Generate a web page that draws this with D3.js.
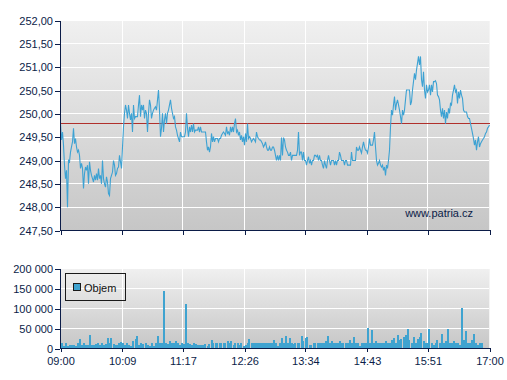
<!DOCTYPE html>
<html><head><meta charset="utf-8">
<script src="https://cdn.jsdelivr.net/npm/d3@7"></script>
<style>body{margin:0;background:#fff;} svg{display:block;font-family:"Liberation Sans",Arial,sans-serif;}</style>
</head><body><svg id="c" width="507" height="380"></svg>
<script>
const priceTicks = [247.5, 248, 248.5, 249, 249.5, 250, 250.5, 251, 251.5, 252];
const volumeTicks = [0, 50000, 100000, 150000, 200000];
const timeTicks = ["09:00", "10:09", "11:17", "12:26", "13:34", "14:43", "15:51", "17:00"];
const sessionStart = "09:00", sessionEnd = "17:00";
const prevClose = 249.80;
const watermark = "www.patria.cz";
const legendLabel = "Objem";

// intraday prices, evenly sampled across the session
const prices = [
249.79,249.44,249.61,249.33,248.90,248.61,248.79,248.00,249.00,248.97,
249.18,249.29,249.40,249.69,249.36,249.47,249.29,249.18,249.22,249.11,
248.83,248.94,248.83,248.40,248.72,248.86,248.79,248.90,248.50,248.97,
248.79,248.68,248.61,248.54,248.68,248.58,248.72,248.58,248.83,248.61,
248.68,248.50,249.00,248.61,248.50,248.43,248.65,248.54,248.29,248.25,
248.61,248.68,248.75,249.00,248.90,248.68,248.72,248.83,248.86,249.11,
248.97,248.83,249.29,249.72,250.01,250.19,250.08,249.90,250.19,250.01,
249.87,250.01,249.61,250.19,249.90,249.94,249.94,249.94,250.19,250.40,
249.94,250.19,250.08,250.19,249.90,250.08,250.01,249.61,250.01,250.30,
250.19,249.90,250.01,250.08,250.12,250.15,250.08,250.30,250.51,250.08,
249.51,249.69,250.01,249.61,249.87,250.01,249.79,250.01,250.08,250.19,
250.30,250.12,250.01,249.90,249.94,249.72,249.65,249.54,249.47,249.40,
249.61,249.51,249.51,249.51,249.51,249.61,250.01,249.69,249.51,249.72,
249.61,249.76,249.61,249.79,249.61,249.65,249.65,249.65,249.72,249.61,
249.72,249.61,249.61,249.61,249.61,249.61,249.40,249.22,249.29,249.18,
249.29,249.58,249.40,249.51,249.40,249.47,249.47,249.47,249.40,249.47,
249.47,249.54,249.58,249.61,249.58,249.54,249.72,249.58,249.61,249.54,
249.72,249.61,249.72,249.61,249.79,249.90,249.61,249.65,249.54,249.61,
249.44,249.54,249.40,249.51,249.33,249.58,249.40,249.79,249.47,249.51,
249.47,249.40,249.44,249.47,249.44,249.40,249.61,249.51,249.47,249.44,
249.44,249.40,249.36,249.29,249.33,249.40,249.29,249.22,249.22,249.29,
249.22,249.22,249.29,249.29,249.22,249.11,249.00,249.11,249.00,249.11,
249.00,249.49,249.11,249.49,249.44,249.29,249.22,249.18,249.11,249.11,
249.18,249.00,249.11,249.11,249.11,249.11,249.11,249.22,249.61,249.11,
249.18,249.18,249.00,249.18,249.00,249.00,248.90,249.00,249.08,248.94,
249.00,248.90,249.00,249.00,249.11,249.11,249.08,249.11,249.00,249.11,
249.00,249.00,248.90,248.83,249.00,248.90,248.83,249.00,249.11,249.00,
248.90,249.00,249.00,249.00,248.90,249.00,248.90,249.00,249.00,249.18,
249.11,249.00,249.00,249.00,248.90,249.00,249.00,248.90,248.90,248.90,
248.90,249.18,249.00,249.00,249.00,249.00,249.29,249.22,249.22,249.29,
249.22,249.16,249.29,249.40,249.29,249.22,249.22,249.16,249.29,249.47,
249.33,249.33,249.33,249.44,249.61,249.29,249.00,248.90,248.94,249.00,
248.90,248.86,248.90,248.79,248.86,248.68,248.90,248.83,249.00,249.22,
249.72,250.08,249.97,250.19,250.37,250.08,250.22,250.30,250.19,250.08,
249.94,249.79,250.08,249.97,250.08,250.30,250.51,250.51,250.51,250.51,
250.19,250.26,250.51,250.69,250.87,250.73,250.94,251.08,251.23,251.05,
251.23,250.73,250.58,250.90,250.51,250.33,250.62,250.47,250.51,250.62,
250.40,250.62,250.47,250.69,250.69,250.71,250.65,250.40,250.37,250.30,
250.08,249.94,250.12,249.90,250.08,249.79,250.04,249.90,250.12,250.01,
250.22,250.19,250.40,250.51,250.62,250.47,250.51,250.22,250.47,250.33,
250.51,250.40,250.33,250.08,250.04,250.04,250.04,249.94,249.90,249.90,
249.79,249.69,249.58,249.47,249.33,249.44,249.22,249.40,249.51,249.29,
249.36,249.40,249.44,249.47,249.51,249.58,249.61,249.69,249.72,249.76
];

// traded volume, evenly sampled (every ~2.24 minutes from 09:00)
const volumes = [
15000,7000,15000,6000,8000,10000,10000,6000,15000,25000,
8000,15000,10000,8000,33000,8000,10000,12000,15000,8000,
14000,8000,12000,27000,15000,27000,12000,8000,10000,13000,
17000,15000,8000,15000,8000,6000,18000,24000,31000,8000,
15000,12000,15000,8000,6000,15000,6000,15000,32000,13000,
15000,143000,15000,12000,18000,15000,15000,18000,15000,10000,
15000,12000,112000,15000,12000,10000,15000,12000,8000,10000,
10000,8000,12000,6000,12000,21000,15000,15000,15000,15000,
15000,15000,15000,18000,15000,18000,8000,13000,15000,8000,
13000,7000,10000,15000,24000,15000,15000,13000,15000,15000,
15000,13000,15000,15000,13000,15000,21000,15000,7000,13000,
27000,15000,32000,15000,27000,15000,12000,13000,15000,13000,
32000,18000,27000,29000,10000,8000,15000,15000,15000,13000,
15000,15000,18000,32000,15000,18000,15000,13000,15000,18000,
15000,15000,13000,15000,21000,15000,29000,13000,15000,7000,
13000,15000,13000,52000,15000,46000,15000,18000,15000,13000,
15000,15000,18000,13000,15000,21000,27000,15000,34000,21000,
25000,29000,34000,50000,21000,15000,29000,13000,24000,29000,
40000,18000,15000,13000,48000,15000,8000,15000,21000,13000,
36000,15000,18000,48000,15000,13000,18000,15000,13000,8000,
102000,21000,44000,15000,15000,21000,36000,15000,8000,15000,15000
];

const toMin = s => { const [h, m] = s.split(":").map(Number); return h * 60 + m; };
const t0 = toMin(sessionStart), t1 = toMin(sessionEnd);
const priceStep = (t1 - t0) / (prices.length - 1);
const volStep = 2 * priceStep;

const loc = d3.formatLocale({decimal: ",", thousands: " ", grouping: [3], currency: ["", ""]});
const fPrice = loc.format(",.2f"), fVol = loc.format(",d");

const svg = d3.select("#c");
const navy = "#0b1c48", lineBlue = "#3da2d3", barBlue = "#3fa3d0";
const crisp = v => Math.round(v - 0.5) + 0.5;

const x = d3.scaleLinear().domain([t0, t1]).range([60.5, 489.5]);
const yP = d3.scaleLinear().domain([247.5, 252]).range([230.5, 20.5]);
const yV = d3.scaleLinear().domain([0, 200000]).range([348.5, 268.5]);

const defs = svg.append("defs");
const grad = defs.append("linearGradient").attr("id", "bg").attr("x1", 0).attr("y1", 0).attr("x2", 0).attr("y2", 1);
grad.append("stop").attr("offset", "0%").attr("stop-color", "#f0f0f0");
grad.append("stop").attr("offset", "100%").attr("stop-color", "#c6c6c6");

function panel(yScale, ticks) {
  const [yb, yt] = yScale.range();
  svg.append("rect").attr("x", 60.5).attr("y", yt).attr("width", 429).attr("height", yb - yt).attr("fill", "url(#bg)");
  const g = svg.append("g").attr("stroke", "#fff").attr("stroke-width", 1).attr("shape-rendering", "crispEdges");
  ticks.slice(1).forEach(v => g.append("line").attr("x1", 61).attr("x2", 489.5).attr("y1", crisp(yScale(v))).attr("y2", crisp(yScale(v))));
  timeTicks.slice(1, -1).forEach(s => { const xx = crisp(x(toMin(s))); g.append("line").attr("x1", xx).attr("x2", xx).attr("y1", yt).attr("y2", yb - 0.5); });
  g.append("line").attr("x1", 489.5).attr("x2", 489.5).attr("y1", yt).attr("y2", yb - 0.5).attr("stroke", "#f4f4f4");
}
panel(yP, priceTicks);
panel(yV, volumeTicks);

// reference line (previous close)
svg.append("line").attr("x1", 61).attr("x2", 489.5)
  .attr("y1", crisp(yP(prevClose))).attr("y2", crisp(yP(prevClose)))
  .attr("stroke", "#b0302c").attr("stroke-width", 1).attr("shape-rendering", "crispEdges");

// price line
const line = d3.line().x((d, i) => x(t0 + i * priceStep)).y(d => yP(d));
svg.append("path").datum(prices).attr("d", line).attr("fill", "none").attr("stroke", lineBlue).attr("stroke-width", 1.1);

// volume bars
svg.append("g").attr("shape-rendering", "crispEdges").selectAll("rect").data(volumes).join("rect")
  .attr("x", (d, i) => Math.round(x(t0 + i * volStep)))
  .attr("width", 2)
  .attr("y", d => Math.round(yV(d))).attr("height", d => Math.round(yV(0)) - Math.round(yV(d)))
  .attr("fill", barBlue);

// axes
function styleAxis(g) {
  g.selectAll("path,line").attr("stroke", navy).attr("shape-rendering", "crispEdges");
  g.selectAll("text").attr("fill", navy).style("font-size", "11px").style("font-family", '"Liberation Sans", Arial, sans-serif');
}
const tickMins = timeTicks.map(toMin);
svg.append("g").attr("transform", "translate(0,230)")
  .call(d3.axisBottom(x).tickValues(tickMins).tickFormat("").tickSizeInner(5).tickSizeOuter(0)).call(styleAxis);
svg.append("g").attr("transform", "translate(0,348)")
  .call(d3.axisBottom(x).tickValues(tickMins).tickFormat((d, i) => timeTicks[i]).tickSizeInner(4).tickSizeOuter(0).tickPadding(5)).call(styleAxis);
svg.append("g").attr("transform", "translate(60,0)")
  .call(d3.axisLeft(yP).tickValues(priceTicks).tickFormat(fPrice).tickSizeInner(5).tickSizeOuter(0).tickPadding(2)).call(styleAxis);
svg.append("g").attr("transform", "translate(60,0)")
  .call(d3.axisLeft(yV).tickValues(volumeTicks).tickFormat(fVol).tickSizeInner(5).tickSizeOuter(0).tickPadding(2)).call(styleAxis);

// watermark
svg.append("text").attr("x", 473).attr("y", 217).attr("text-anchor", "end")
  .attr("fill", navy).style("font-size", "11px").text(watermark);

// legend
const lg = svg.append("g");
lg.append("rect").attr("x", 65.5).attr("y", 273.5).attr("width", 60).attr("height", 27)
  .attr("fill", "none").attr("stroke", "#1a1a1a").attr("shape-rendering", "crispEdges");
lg.append("rect").attr("x", 73.5).attr("y", 283.5).attr("width", 7).attr("height", 7)
  .attr("fill", barBlue).attr("stroke", "#1a1a1a").attr("shape-rendering", "crispEdges");
lg.append("text").attr("x", 84).attr("y", 292).attr("fill", "#111").style("font-size", "11px").text(legendLabel);
</script></body></html>
